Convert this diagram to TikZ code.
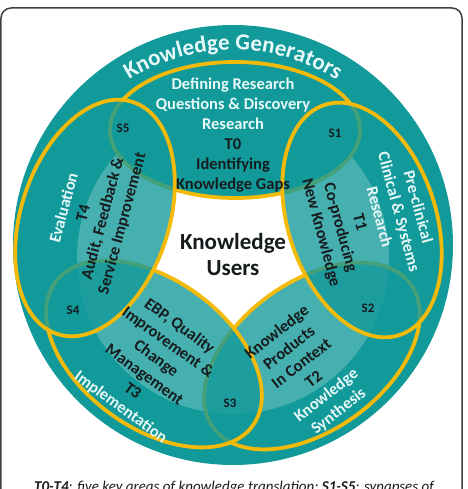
\documentclass[tikz,border=0pt]{standalone}
\usepackage{fontspec}
\setmainfont{Carlito}
\usepackage{xcolor}
\usetikzlibrary{decorations.text}

\definecolor{teal1}{RGB}{18,153,153}
\definecolor{gold1}{RGB}{244,186,10}
\definecolor{pale}{RGB}{232,248,248}
\definecolor{ink}{RGB}{22,28,30}

\tikzset{
  ring/.style={draw=gold1, line width=3.8pt, fill=teal1, fill opacity=0.78},
  area/.style={text=ink, align=center, font=\bfseries\fontsize{16.5}{20}\selectfont},
  syn/.style={text=ink, font=\bfseries\fontsize{13}{15}\selectfont}
}

\begin{document}
\begin{tikzpicture}[x=1pt,y=1pt]
  \useasboundingbox (-233,-244) rectangle (234,245);
  \draw[line width=1.5pt, color=black!75, rounded corners=10pt] (-232,-290) rectangle (229,237);

  % outer disc and the white core
  \fill[teal1] (0,0) circle (220);
  \fill[white] (0,-13) circle (156);

  \coordinate (c0) at (2,115);
  \coordinate (c1) at (129,25);
  \coordinate (c2) at (79,-111);
  \coordinate (c3) at (-79,-109);
  \coordinate (c4) at (-138,27);

  % the five areas, T0 at the bottom of the stack
  \draw[ring, fill opacity=1] (c0) ellipse [x radius=125, y radius=68];
  \draw[ring, rotate around={36:(c2)}] (c2) ellipse [x radius=122, y radius=74];
  \draw[ring, rotate around={-72:(c1)}] (c1) ellipse [x radius=121, y radius=74];
  \draw[ring, rotate around={-36:(c3)}] (c3) ellipse [x radius=122, y radius=74];
  \draw[ring, rotate around={72:(c4)}] (c4) ellipse [x radius=122, y radius=74];

  \path[decorate, decoration={text along path, text align=center, text color=pale,
      text={|\fontsize{23}{26}\selectfont\bfseries|Knowledge Generators}}]
    (150:195) arc [start angle=150, end angle=30, radius=195];

  \node[area] (t0) at (0,110) {\textcolor{pale}{Defining Research}\\
    \textcolor{pale}{Questions \& Discovery}\\\textcolor{pale}{Research}\\T0\\Identifying\\Knowledge Gaps};
  \node[area, rotate=-75] (t1) at (136,25) {\textcolor{pale}{Pre-clinical}\\
    \textcolor{pale}{Clinical \& Systems}\\\textcolor{pale}{Research}\\T1\\Co-producing\\New Knowledge};
  \node[area, rotate=38] (t2) at (75,-127) {Knowledge\\Products\\In Context\\T2\\
    \textcolor{pale}{Knowledge}\\\textcolor{pale}{Synthesis}};
  \node[area, rotate=-36] (t3) at (-83,-122) {EBP, Quality\\Improvement \&\\Change\\Management\\T3\\
    \textcolor{pale}{Implementation}};
  \node[area, rotate=75] (t4) at (-139.5,29) {\textcolor{pale}{Evaluation}\\T4\\
    Audit, Feedback \&\\Service Improvement};

  \node[area, font=\bfseries\fontsize{23}{26}\selectfont] (users) at (0,-10) {Knowledge\\Users};

  \node[syn] (s1) at (102,112) {S1};
  \node[syn] (s2) at (135,-63) {S2};
  \node[syn] (s3) at (-3,-158) {S3};
  \node[syn] (s4) at (-160,-65) {S4};
  \node[syn] (s5) at (-110,117) {S5};

  \node[anchor=base, text=ink, font=\itshape\fontsize{15}{17}\selectfont] (note) at (1,-246)
    {\textbf{T0-T4}: five key areas of knowledge translation; \textbf{S1-S5}: synapses of};
\end{tikzpicture}
\end{document}
